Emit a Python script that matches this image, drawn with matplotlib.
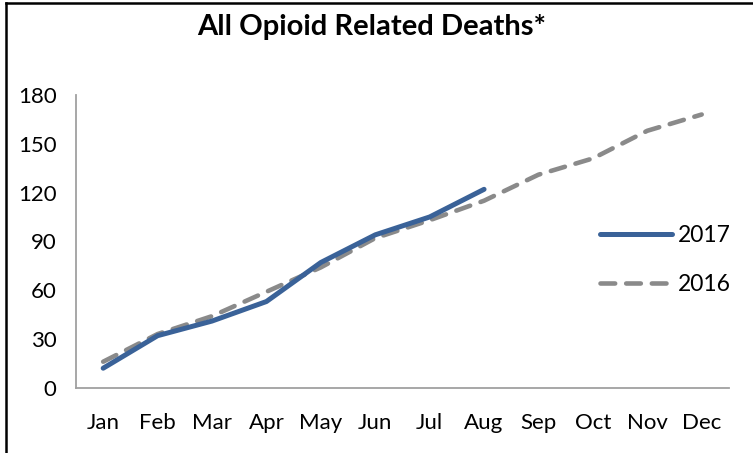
import matplotlib
matplotlib.use("Agg")
import matplotlib.pyplot as plt
from matplotlib.lines import Line2D

plt.rcParams["font.family"] = ["Lato", "DejaVu Sans"]

# data
months = ["Jan", "Feb", "Mar", "Apr", "May", "Jun", "Jul", "Aug", "Sep", "Oct", "Nov", "Dec"]
deaths_2017 = [12, 32, 41, 53, 77, 94, 105, 122]
deaths_2016 = [16, 33, 44, 59, 74, 92, 103, 115, 131, 141, 158, 168]
y_ticks = [0, 30, 60, 90, 120, 150, 180]

fig = plt.figure(figsize=(7.53, 4.53), dpi=100)
ax = fig.add_axes([0.1009, 0.1441, 0.8671, 0.6462])

x17 = list(range(len(deaths_2017)))
x16 = list(range(len(deaths_2016)))

ax.plot(x17, deaths_2017, color="#3A6298", lw=3.6, solid_capstyle="round", label="2017", zorder=3)
ax.plot(x16, deaths_2016, color="#8A8A8A", lw=3.3, dashes=(3.2, 2.4), dash_capstyle="round",
        label="2016", zorder=2)

ax.set_xlim(-0.5, len(months) - 0.5)
ax.set_ylim(0, 180)
ax.set_xticks(range(len(months)))
ax.set_xticklabels(months)
ax.set_yticks(y_ticks)
ax.tick_params(axis="both", length=0, labelsize=16)
ax.tick_params(axis="y", pad=14)
ax.tick_params(axis="x", pad=18)

for side in ["top", "right"]:
    ax.spines[side].set_visible(False)
for side in ["left", "bottom"]:
    ax.spines[side].set_color("#A0A0A0")
    ax.spines[side].set_linewidth(1.3)

leg = ax.legend(loc="center left", bbox_to_anchor=(0.802, 0.436), frameon=False, fontsize=16.5,
                borderpad=0, borderaxespad=0, handlelength=3.15, handletextpad=0.27,
                labelspacing=1.25)

fig.text(0.494, 1 - 26.5 / 453, "All Opioid Related Deaths*", ha="center", va="center",
         fontsize=21, fontweight="bold")

# outer frame (only left and top edges visible in the crop)
fig.add_artist(Line2D([6 / 753, 6 / 753], [0, 1 - 3 / 453], transform=fig.transFigure,
                      color="black", lw=1.8))
fig.add_artist(Line2D([6 / 753, 1], [1 - 3 / 453, 1 - 3 / 453], transform=fig.transFigure,
                      color="black", lw=1.8))

fig.savefig("out.png", dpi=100)
